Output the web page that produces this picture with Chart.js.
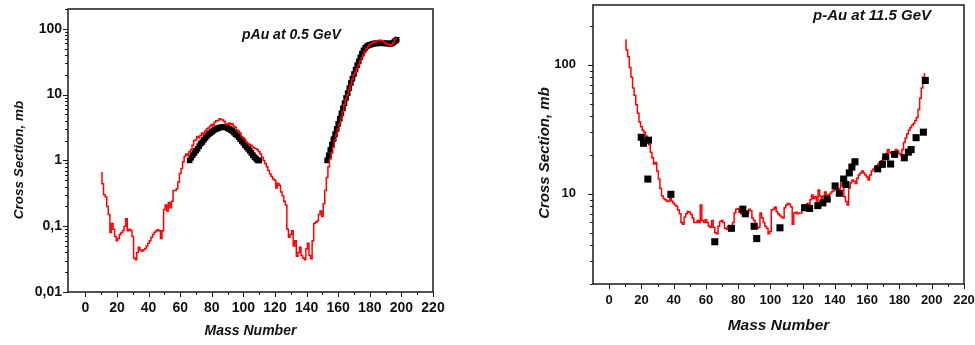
<!DOCTYPE html>
<html>
<head>
<meta charset="utf-8">
<script src="https://cdn.jsdelivr.net/npm/chart.js@4.4.1/dist/chart.umd.min.js"></script>
<style>
  html, body { margin: 0; padding: 0; background: #fff; }
  body { width: 975px; height: 345px; position: relative; overflow: hidden; }
  .panel { position: absolute; top: 0; height: 345px; }
  #lowPanel { left: 0; width: 460px; }
  #highPanel { left: 500px; width: 475px; }
</style>
</head>
<body>
<div class="panel" id="lowPanel"><canvas id="lowChart"></canvas></div>
<div class="panel" id="highPanel"><canvas id="highChart"></canvas></div>
<script>
// ---- pAu at 0.5 GeV ----
const lowCalcMass = [
  10, 11, 12, 13, 14, 15, 16, 17, 18, 19, 20, 21, 22, 23, 24, 25, 26, 27, 28, 29,
  30, 31, 32, 33, 34, 35, 36, 37, 38, 39, 40, 41, 42, 43, 44, 45, 46, 47, 48, 49,
  50, 51, 52, 53, 54, 55, 56, 57, 58, 59, 60, 61, 62, 63, 64, 65, 66, 67, 68, 69,
  70, 71, 72, 73, 74, 75, 76, 77, 78, 79, 80, 81, 82, 83, 84, 85, 86, 87, 88, 89,
  90, 91, 92, 93, 94, 95, 96, 97, 98, 99, 100, 101, 102, 103, 104, 105, 106, 107, 108, 109,
  110, 111, 112, 113, 114, 115, 116, 117, 118, 119, 120, 121, 122, 123, 124, 125, 126, 127, 128, 129,
  130, 131, 132, 133, 134, 135, 136, 137, 138, 139, 140, 141, 142, 143, 144, 145, 146, 147, 148, 149,
  150, 151, 152, 153, 154, 155, 156, 157, 158, 159, 160, 161, 162, 163, 164, 165, 166, 167, 168, 169,
  170, 171, 172, 173, 174, 175, 176, 177, 178, 179, 180, 181, 182, 183, 184, 185, 186, 187, 188, 189,
  190, 191, 192, 193, 194, 195, 196, 197
];
const lowCalcValues = [
  0.65, 0.44, 0.30, 0.28, 0.20, 0.15, 0.08, 0.11, 0.09, 0.07,
  0.06, 0.065, 0.075, 0.08, 0.086, 0.10, 0.13, 0.085, 0.09, 0.086,
  0.07, 0.033, 0.031, 0.04, 0.048, 0.043, 0.042, 0.044, 0.046, 0.05,
  0.055, 0.06, 0.068, 0.075, 0.081, 0.085, 0.088, 0.085, 0.065, 0.085,
  0.18, 0.21, 0.17, 0.23, 0.19, 0.24, 0.35, 0.35, 0.37, 0.47,
  0.63, 0.75, 0.95, 1.15, 1.25, 1.2, 1.35, 1.45, 1.7, 2.0,
  2.05, 2.3, 2.2, 2.4, 2.6, 2.5, 2.8, 3.0, 3.1, 3.3,
  3.5, 3.4, 3.8, 4.0, 4.0, 4.3, 4.2, 4.1, 3.9, 3.6,
  3.5, 3.7, 3.5, 3.6, 3.3, 3.2, 2.9, 2.8, 2.6, 2.3,
  2.2, 2.1, 1.9, 1.8, 1.75, 1.7, 1.6, 1.55, 1.5, 1.45,
  1.35, 1.25, 1.12, 1.0, 0.9, 0.8, 0.7, 0.62, 0.57, 0.52,
  0.5, 0.38, 0.45, 0.42, 0.33, 0.29, 0.24, 0.21, 0.09, 0.068,
  0.075, 0.085, 0.05, 0.06, 0.035, 0.04, 0.048, 0.036, 0.033, 0.031,
  0.045, 0.055, 0.036, 0.032, 0.06, 0.11, 0.115, 0.12, 0.15, 0.17,
  0.14, 0.22, 0.35, 0.55, 0.8, 1.05, 1.3, 1.6, 2.0, 2.5,
  3.0, 3.6, 4.5, 5.5, 7.0, 8.5, 10, 12, 14, 17,
  20, 22, 25, 28, 32, 36, 40, 45, 50, 54,
  57, 60, 62, 63, 64, 65, 67, 67, 66, 63,
  60, 58, 58, 56, 57, 62, 68, 75
];
const lowExpMass = [
  66, 67, 68, 69, 70, 71, 72, 73, 74, 75, 76, 77, 78, 79, 80, 81, 82, 83, 84, 85,
  86, 87, 88, 89, 90, 91, 92, 93, 94, 95, 96, 97, 98, 99, 100, 101, 102, 103, 104, 105,
  106, 107, 108, 109, 110,
  153, 154, 155, 156, 157, 158, 159, 160, 161, 162, 163, 164, 165, 166, 167, 168, 169, 170, 171, 172,
  173, 174, 175, 176, 177, 178, 179, 180, 181, 182, 183, 184, 185, 186, 187, 188, 189, 190, 191, 192,
  193, 194, 195, 196, 197
];
const lowExpValues = [
  1.0, 1.1, 1.2, 1.3, 1.4, 1.5, 1.65, 1.8, 1.9, 2.05, 2.2, 2.35, 2.5, 2.6, 2.7, 2.85, 2.95, 3.0, 3.1, 3.15,
  3.2, 3.2, 3.2, 3.15, 3.1, 3.0, 2.9, 2.8, 2.65, 2.5, 2.4, 2.25, 2.1, 1.95, 1.85, 1.7, 1.6, 1.5, 1.4, 1.3,
  1.2, 1.12, 1.06, 1.0, 1.0,
  1.0, 1.2, 1.45, 1.75, 2.1, 2.5, 3.0, 3.6, 4.3, 5.2, 6.2, 7.4, 8.9, 10.5, 12.5, 15, 17.5, 20.5, 24, 28,
  32, 37, 42, 47, 51, 54, 56, 57, 58, 59, 60, 60, 60, 61, 61, 61, 60, 60, 60, 60,
  59, 60, 62, 65, 68
];
const lowYTicks = [0.01, 0.1, 1, 10, 100];
const lowYLabels = ["0,01", "0,1", "1", "10", "100"];

// ---- p-Au at 11.5 GeV ----
const highCalcMass = [
  10, 11, 12, 13, 14, 15, 16, 17, 18, 19, 20, 21, 22, 23, 24, 25, 26, 27, 28, 29,
  30, 31, 32, 33, 34, 35, 36, 37, 38, 39, 40, 41, 42, 43, 44, 45, 46, 47, 48, 49,
  50, 51, 52, 53, 54, 55, 56, 57, 58, 59, 60, 61, 62, 63, 64, 65, 66, 67, 68, 69,
  70, 71, 72, 73, 74, 75, 76, 77, 78, 79, 80, 81, 82, 83, 84, 85, 86, 87, 88, 89,
  90, 91, 92, 93, 94, 95, 96, 97, 98, 99, 100, 101, 102, 103, 104, 105, 106, 107, 108, 109,
  110, 111, 112, 113, 114, 115, 116, 117, 118, 119, 120, 121, 122, 123, 124, 125, 126, 127, 128, 129,
  130, 131, 132, 133, 134, 135, 136, 137, 138, 139, 140, 141, 142, 143, 144, 145, 146, 147, 148, 149,
  150, 151, 152, 153, 154, 155, 156, 157, 158, 159, 160, 161, 162, 163, 164, 165, 166, 167, 168, 169,
  170, 171, 172, 173, 174, 175, 176, 177, 178, 179, 180, 181, 182, 183, 184, 185, 186, 187, 188, 189,
  190, 191, 192, 193, 194, 195, 196
];
const highCalcValues = [
  155, 130, 115, 95, 80, 66, 58, 49, 42, 36,
  33, 31, 30, 28, 26, 24, 21, 19, 17, 17.5,
  15, 13, 11, 9.6, 9.2, 9.0, 8.7, 8.8, 9.2, 8.8,
  8.5, 8.2, 8.0, 7.5, 7.0, 6.0, 5.8, 6.6, 7.0, 7.3,
  7.2, 6.9, 6.5, 6.0, 6.0, 6.2, 6.0, 8.2, 6.2, 6.0,
  6.3, 6.0, 5.6, 5.5, 6.2, 5.5, 5.0, 4.9, 5.6, 6.1,
  6.2, 6.0, 5.4, 5.3, 5.6, 5.5, 5.6, 6.0, 7.1, 7.6,
  7.7, 7.2, 7.0, 7.5, 7.4, 7.0, 7.1, 7.6, 7.4, 6.5,
  6.2, 5.8, 5.4, 5.5, 7.1, 6.5, 6.0, 5.6, 5.4, 4.9,
  5.1, 7.5, 7.6, 7.9, 7.3, 7.0, 6.8, 6.6, 6.5, 7.8,
  8.2, 8.4, 8.3, 7.9, 5.8, 7.1, 7.2, 7.0, 7.1, 7.1,
  7.5, 7.9, 8.2, 8.4, 8.3, 9.0, 9.8, 9.2, 9.5, 8.8,
  10.7, 9.6, 9.0, 9.6, 10.3, 9.8, 9.5, 10.0, 10.3, 10.5,
  11.1, 10.8, 10.3, 11.0, 12.0, 11.5, 9.5, 8.7, 8.2, 11.1,
  12.2, 12.8, 12.5, 12.0, 13.2, 14.0, 14.5, 15.0, 14.5, 14.0,
  13.5, 12.8, 14.0, 15.0, 15.5, 16.0, 16.5, 17.0, 17.5, 18.0,
  19.0, 19.5, 20.5, 22.0, 21.0, 20.5, 20.0, 21.0, 22.0, 21.5,
  20.5, 20.0, 22.0, 25.0, 27.0, 29.0, 31.0, 32.5, 34.0, 35.0,
  37.0, 39.0, 45.0, 55.0, 66.0, 80.0, 85.0
];
const highExpMass = [
  19.9, 21.3, 24.4, 24.0, 38.3, 65.5, 75.8, 82.9, 84.4, 89.9,
  91.5, 105.9, 121.2, 124.3, 129.4, 132.5, 135.2, 140.1, 142.7, 145.4,
  146.8, 148.9, 150.5, 152.4, 166.5, 169.4, 171.5, 174.5, 177.0, 183.0,
  185.5, 187.2, 190.3, 194.8, 196.0
];
const highExpValues = [
  27.4, 24.6, 26, 13, 9.9, 4.25, 5.4, 7.6, 7.0, 5.6,
  4.5, 5.45, 7.8, 7.7, 8.1, 8.5, 9.1, 11.5, 10.1, 13.0,
  11.8, 14.5, 16.1, 17.7, 15.6, 16.9, 19.3, 17.0, 20.2, 19.0,
  21.0, 22.0, 27.2, 30.0, 75.5
];
const highYTicks = [10, 100];
const highYLabels = ["10", "100"];

const massTicks = [0, 20, 40, 60, 80, 100, 120, 140, 160, 180, 200, 220];

const labelFont = "'Liberation Sans Narrow', 'Liberation Sans', Arial, sans-serif";
const titleFont = "'Liberation Sans', Arial, sans-serif";

function pairs(xs, ys) {
  return xs.map((x, i) => ({ x: x, y: ys[i] }));
}

// frame, outward tick marks, y title and panel caption
const framePlugin = {
  id: "frame",
  afterDraw(chart, args, opts) {
    const { ctx, chartArea: a } = chart;
    const x = chart.scales.x;
    const y = chart.scales.y;
    ctx.save();
    ctx.strokeStyle = "#1a1a1a";
    ctx.lineWidth = 1.5;
    ctx.strokeRect(a.left, a.top, a.right - a.left, a.bottom - a.top);

    ctx.lineWidth = 1;
    ctx.beginPath();
    for (let v = 0; v <= x.max; v += 10) {
      const px = Math.round(x.getPixelForValue(v)) + 0.5;
      const len = v % 20 === 0 ? 5 : 3;
      ctx.moveTo(px, a.bottom);
      ctx.lineTo(px, a.bottom + len);
    }
    let decade = Math.pow(10, Math.floor(Math.log10(y.min)));
    while (decade <= y.max) {
      for (let m = 1; m < 10; m++) {
        const v = decade * m;
        if (v < y.min * 0.999 || v > y.max) continue;
        const py = Math.round(y.getPixelForValue(v)) + 0.5;
        const len = m === 1 ? 5 : 3;
        ctx.moveTo(a.left, py);
        ctx.lineTo(a.left - len, py);
      }
      decade *= 10;
    }
    ctx.stroke();

    ctx.fillStyle = "#111";
    ctx.font = opts.titleFont;
    ctx.textAlign = "center";
    ctx.textBaseline = "middle";
    ctx.save();
    ctx.translate(opts.yTitleX, opts.yTitleY);
    ctx.rotate(-Math.PI / 2);
    ctx.fillText("Cross Section, mb", 0, 0);
    ctx.restore();

    ctx.font = opts.noteFont;
    ctx.textAlign = "left";
    ctx.fillText(opts.note, opts.noteX, opts.noteY);
    ctx.restore();
  },
};

function makeChart(canvasId, cfg) {
  return new Chart(document.getElementById(canvasId), {
    type: "line",
    data: { datasets: cfg.datasets },
    options: {
      responsive: true,
      maintainAspectRatio: false,
      animation: false,
      devicePixelRatio: 1,
      layout: { padding: cfg.padding },
      plugins: {
        legend: { display: false },
        tooltip: { enabled: false },
        frame: cfg.frame,
      },
      scales: {
        x: {
          type: "linear",
          min: cfg.xMin,
          max: 220,
          grid: { display: false, tickLength: cfg.xGap },
          border: { display: false },
          afterBuildTicks: (scale) => {
            scale.ticks = massTicks.map((v) => ({ value: v }));
          },
          afterFit: (scale) => {
            scale.height = cfg.xHeight;
          },
          ticks: {
            autoSkip: false,
            maxRotation: 0,
            padding: 0,
            color: "#111",
            font: { family: labelFont, size: cfg.tickSize, weight: "bold" },
          },
          title: {
            display: true,
            text: "Mass Number",
            color: "#111",
            padding: { top: 0, bottom: cfg.xTitlePad },
            font: { family: titleFont, size: cfg.titleSize, weight: "bold", style: "italic" },
          },
        },
        y: {
          type: "logarithmic",
          min: cfg.yMin,
          max: cfg.yMax,
          grid: { display: false, tickLength: cfg.yGap },
          border: { display: false },
          afterBuildTicks: (scale) => {
            scale.ticks = cfg.yTicks.map((v) => ({ value: v }));
          },
          afterFit: (scale) => {
            scale.width = cfg.yWidth;
          },
          ticks: {
            padding: 0,
            color: "#111",
            font: { family: labelFont, size: cfg.tickSize, weight: "bold", lineHeight: 0.3 },
            callback: (value, index) => cfg.yLabels[index],
          },
        },
      },
    },
    plugins: [framePlugin],
  });
}

makeChart("lowChart", {
  padding: { left: 0, top: 9, right: 27, bottom: 0 },
  xMin: -11,
  yMin: 0.01,
  yMax: 200,
  yTicks: lowYTicks,
  yLabels: lowYLabels,
  yWidth: 68,
  xHeight: 53,
  xGap: 8,
  yGap: 6,
  xTitlePad: 5,
  tickSize: 14,
  titleSize: 14,
  frame: {
    titleFont: "italic bold 13.5px " + titleFont,
    yTitleX: 19,
    yTitleY: 160,
    note: "pAu at 0.5 GeV",
    noteFont: "italic bold 14px " + titleFont,
    noteX: 242,
    noteY: 35,
  },
  datasets: [
    {
      data: pairs(lowCalcMass, lowCalcValues),
      borderColor: "#ff0000",
      borderWidth: 1.5,
      stepped: "middle",
      pointRadius: 0,
      fill: false,
    },
    {
      data: pairs(lowExpMass, lowExpValues),
      showLine: false,
      pointStyle: "rect",
      pointRadius: 4,
      backgroundColor: "#000",
      borderColor: "#000",
      borderWidth: 0,
    },
  ],
});

makeChart("highChart", {
  padding: { left: 0, top: 2, right: 11, bottom: 0 },
  xMin: -10,
  yMin: 2,
  yMax: 290,
  yTicks: highYTicks,
  yLabels: highYLabels,
  yWidth: 93,
  xHeight: 61,
  xGap: 9,
  yGap: 17,
  xTitlePad: 10,
  tickSize: 13,
  titleSize: 15.5,
  frame: {
    titleFont: "italic bold 15px " + titleFont,
    yTitleX: 45,
    yTitleY: 153,
    note: "p-Au at 11.5 GeV",
    noteFont: "italic bold 15px " + titleFont,
    noteX: 313,
    noteY: 16,
  },
  datasets: [
    {
      data: pairs(highExpMass, highExpValues),
      showLine: false,
      pointStyle: "rect",
      pointRadius: 5,
      backgroundColor: "#000",
      borderColor: "#000",
      borderWidth: 0,
    },
    {
      data: pairs(highCalcMass, highCalcValues),
      borderColor: "#ff0000",
      borderWidth: 1.5,
      stepped: "middle",
      pointRadius: 0,
      fill: false,
    },
  ],
});
</script>
</body>
</html>
